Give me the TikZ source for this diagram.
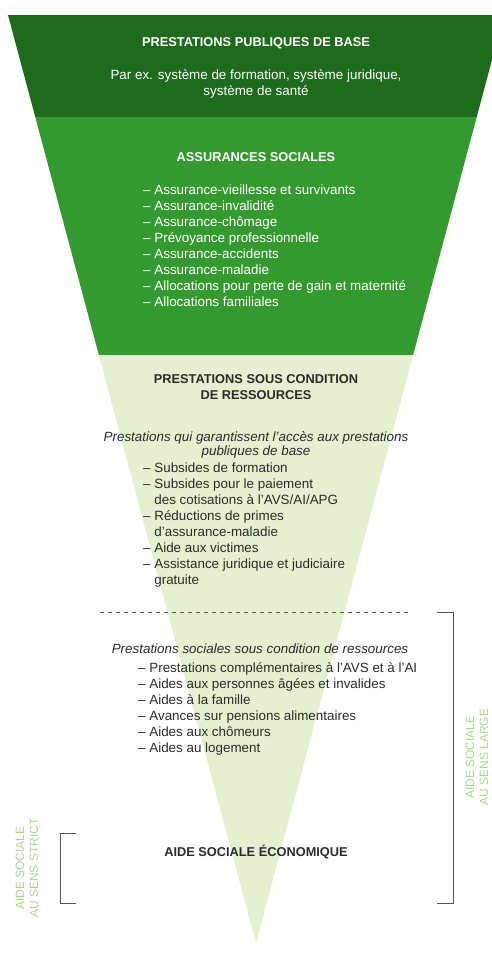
\documentclass[tikz,border=0pt]{standalone}
\usepackage{fontspec}
\setmainfont{Liberation Sans}
\usetikzlibrary{positioning}

\definecolor{basegreen}{HTML}{1F6B1E}
\definecolor{insgreen}{HTML}{349A2F}
\definecolor{condgreen}{HTML}{E6EFCF}
\definecolor{labelgreen}{HTML}{A8D890}
\definecolor{textgrey}{HTML}{2B2B2B}
\definecolor{rulegrey}{HTML}{555555}

\newcommand{\LISTSTEP}{16}
\newcommand{\BASEBOTTOM}{117}
\newcommand{\INSBOTTOM}{355}

\tikzset{
  headtext/.style={font=\fontsize{12.8}{16}\selectfont\bfseries, inner sep=0pt, align=center},
  bodytext/.style={font=\fontsize{13.4}{16}\selectfont, inner sep=0pt},
  introtext/.style={font=\fontsize{13.4}{14}\selectfont\itshape, inner sep=0pt, align=center, text=textgrey},
  listline/.style={bodytext, anchor=mid west},
  sidelabel/.style={font=\fontsize{12}{14}\selectfont, text=labelgreen, align=center, rotate=90, inner sep=0pt},
  bracket/.style={rulegrey, line width=0.9pt},
}

\begin{document}
\begin{tikzpicture}[x=1pt, y=-1pt]
  \useasboundingbox (0,0) rectangle (492,953);

  % funnel, cut in three bands
  \begin{scope}
    \clip (8,15) -- (504,15) -- (256,943) -- cycle;
    \fill[basegreen] (0,15) rectangle (510,\BASEBOTTOM);
    \fill[insgreen] (0,\BASEBOTTOM) rectangle (510,\INSBOTTOM);
    \fill[condgreen] (0,\INSBOTTOM) rectangle (510,953);
  \end{scope}

  % top band
  \node[headtext, text=white] (base) at (256,43) {PRESTATIONS PUBLIQUES DE BASE};
  \node[bodytext, text=white, align=center] (baseex) at (256,84)
    {Par ex. système de formation, système juridique,\\système de santé};

  % social insurances
  \node[headtext, text=white] (ins) at (256,157) {ASSURANCES SOCIALES};
  \foreach \t [count=\i from 0] in {
      Assurance-vieillesse et survivants,
      Assurance-invalidité,
      Assurance-chômage,
      Prévoyance professionnelle,
      Assurance-accidents,
      Assurance-maladie,
      Allocations pour perte de gain et maternité,
      Allocations familiales} {
      \node[listline, text=white] (ins\i) at (143, 192+\LISTSTEP*\i) {– \t};
    }

  % means-tested benefits
  \node[headtext, text=textgrey] (cond) at (256,387) {PRESTATIONS SOUS CONDITION\\DE RESSOURCES};
  \node[introtext] (acc) at (256,445)
    {Prestations qui garantissent l’accès aux prestations\\publiques de base};
  \foreach \t [count=\i from 0] in {
      – Subsides de formation,
      – Subsides pour le paiement,
      \hphantom{– }des cotisations à l’AVS/AI/APG,
      – Réductions de primes,
      \hphantom{– }d’assurance-maladie,
      – Aide aux victimes,
      – Assistance juridique et judiciaire,
      \hphantom{– }gratuite} {
      \node[listline, text=textgrey] (acc\i) at (143, 470+\LISTSTEP*\i) {\t};
    }

  \draw[rulegrey, dash pattern=on 4pt off 4pt, line width=0.7pt] (100,612) -- (412,612);

  \node[introtext] (soc) at (260,649) {Prestations sociales sous condition de ressources};
  \foreach \t [count=\i from 0] in {
      Prestations complémentaires à l’AVS et à l’AI,
      Aides aux personnes âgées et invalides,
      Aides à la famille,
      Avances sur pensions alimentaires,
      Aides aux chômeurs,
      Aides au logement} {
      \node[listline, text=textgrey] (soc\i) at (138, 670+\LISTSTEP*\i) {– \t};
    }

  \node[headtext, text=textgrey] (eco) at (256,852) {AIDE SOCIALE ÉCONOMIQUE};

  % brackets and side labels
  \draw[bracket] (437,612) -- (453,612) -- (453,903) -- (437,903);
  \draw[bracket] (76,833) -- (60,833) -- (60,903) -- (76,903);
  \node[sidelabel] (large) at (477,757) {AIDE SOCIALE\\AU SENS LARGE};
  \node[sidelabel] (strict) at (27,868) {AIDE SOCIALE\\AU SENS STRICT};
\end{tikzpicture}
\end{document}
